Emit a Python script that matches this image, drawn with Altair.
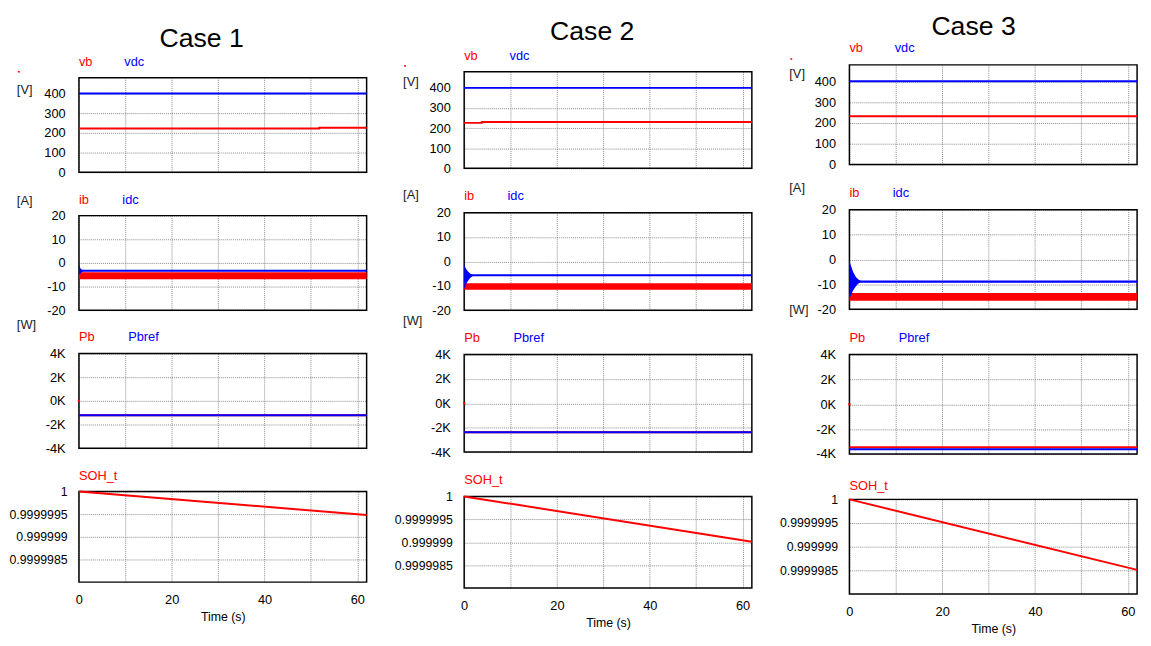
import altair as alt
import pandas as pd

FONT = "Liberation Sans"
RED = "#ff0000"
BLUE = "#0000ff"

# ---------------- shared axes ----------------
TIME = [0, 62]
X_DOMAIN = [0, 62]
X_TICKS = [0, 10, 20, 30, 40, 50, 60]
V_DOMAIN = [0, 480]
V_TICKS = [0, 100, 200, 300, 400]
A_DOMAIN = [-20, 20]
A_TICKS = [-20, -10, 0, 10, 20]
W_DOMAIN = [-4000, 4000]
W_TICKS = [-4000, -2000, 0, 2000, 4000]
S_DOMAIN = [0.999998, 1.0]
S_TICKS = [0.9999985, 0.999999, 0.9999995, 1.0]
CASES = ["Case 1", "Case 2", "Case 3"]

# ---------------- Case 1 ----------------
c1_vb_t = [0, 51.8, 51.8, 62]
c1_vb = [222, 222, 226, 226]
c1_vdc = [400, 400]
c1_ib_lo = [-6.9, -6.9]
c1_ib_hi = [-4.0, -4.0]
c1_idc = [-3.3, -3.3]
c1_tr_t = [0, 0.3, 0.6, 1.0]
c1_tr_hi = [0, -2.3, -2.9, -3.3]
c1_tr_lo = [-5.0, -4.6, -3.9, -3.3]
c1_pb = [-1225, -1225]
c1_pbref = [-1225, -1225]
c1_soh = [1.0, 0.99999948]

# ---------------- Case 2 ----------------
c2_vb_t = [0, 3.8, 3.8, 62]
c2_vb = [226, 226, 230, 230]
c2_vdc = [400, 400]
c2_ib_lo = [-11.6, -11.6]
c2_ib_hi = [-8.9, -8.9]
c2_idc = [-5.7, -5.7]
c2_tr_t = [0, 0.1, 0.6, 1.2, 1.7, 2.2]
c2_tr_hi = [0, -2.0, -3.6, -4.8, -5.4, -5.7]
c2_tr_lo = [-11.4, -11.0, -8.6, -7.0, -6.2, -5.7]
c2_pb = [-2380, -2380]
c2_pbref = [-2380, -2380]
c2_soh = [1.0, 0.99999901]

# ---------------- Case 3 ----------------
c3_vb_t = [0, 62]
c3_vb = [232, 232]
c3_vdc = [401, 401]
c3_ib_lo = [-16.6, -16.6]
c3_ib_hi = [-13.5, -13.5]
c3_idc = [-8.9, -8.9]
c3_tr_t = [0, 0.2, 0.8, 1.4, 2.0, 2.7]
c3_tr_hi = [0, -1.7, -5.0, -7.0, -8.2, -8.9]
c3_tr_lo = [-15.0, -15.0, -12.5, -10.8, -9.6, -8.9]
c3_pb = [-3460, -3460]
c3_pbref = [-3620, -3620]
c3_soh = [1.0, 0.99999851]

PB_START_T = [0]
PB_START = [0]

ONE = pd.DataFrame({"k": [0]})


def frame(t, v, v2=None):
    d = {"t": t, "v": v}
    if v2 is not None:
        d["v2"] = v2
    return pd.DataFrame(d)


def x_enc(bottom):
    ax = dict(values=X_TICKS, grid=True, ticks=False, domain=False,
              labels=bottom, labelFlush=False, labelPadding=12,
              labelExpr="datum.value % 20 == 0 ? datum.label : ''",
              title="Time (s)" if bottom else "", titlePadding=4,
              titleFontSize=12.5, titleFontWeight="normal")
    return alt.X("t:Q", scale=alt.Scale(domain=X_DOMAIN, nice=False, zero=False),
                 axis=alt.Axis(**ax))


def y_enc(domain, ticks, expr=None, fmt=None, fs=13, pad=14):
    ax = dict(values=ticks, grid=True, ticks=False, domain=False,
              labelFontSize=fs, labelPadding=pad, labelFlush=False, title="")
    if expr:
        ax["labelExpr"] = expr
    if fmt:
        ax["format"] = fmt
    return alt.Y("v:Q", scale=alt.Scale(domain=domain, nice=False, zero=False),
                 axis=alt.Axis(**ax))


def txt(text, color, dx, dy, fs=13):
    return alt.Chart(ONE).mark_text(text=text, color=color, align="left",
                                    baseline="middle", fontSize=fs, font=FONT).encode(
        x=alt.value(dx), y=alt.value(dy))


def box(w, h):
    return alt.Chart(ONE).mark_rect(filled=False, color="black", strokeWidth=1.5).encode(
        x=alt.value(0), x2=alt.value(w), y=alt.value(0), y2=alt.value(h))


def panel(w, h, X, Y, layers, labels):
    parts = [box(w, h)]
    for kind, df, color, sw in layers:
        if kind == "line":
            parts.append(alt.Chart(df).mark_line(color=color, strokeWidth=sw).encode(x=X, y=Y))
        elif kind == "area":
            parts.append(alt.Chart(df).mark_area(color=color, opacity=1).encode(
                x=X, y=Y, y2=alt.Y2("v2:Q")))
        elif kind == "dot":
            parts.append(alt.Chart(df).mark_square(color=color, size=sw, opacity=1).encode(x=X, y=Y))
    for lab in labels:
        parts.append(lab)
    return alt.layer(*parts).properties(width=w, height=h)


def column(idx, data, geo):
    (vb_t, vb, vdc, ib_lo, ib_hi, idc, tr_t, tr_hi, tr_lo, pb, pbref, soh) = data
    W = 292
    hs = geo["h"]
    ux = geo["ux"]
    udy = geo["udy"]
    sdy = geo["sdy"]

    title = alt.Chart(pd.DataFrame({"title": [CASES[idx]]})).mark_text(
        fontSize=27, font=FONT, color="black", align="center", baseline="middle").encode(
        text="title:N", x=alt.value(geo["tx"]), y=alt.value(geo["ty"])).properties(
        width=geo["tw"], height=geo["th"])

    a_expr = "(datum.value < 0 ? '-' : '') + abs(datum.value)"
    w_expr = "(datum.value < 0 ? '-' : '') + abs(datum.value) / 1000 + 'K'"

    p1 = panel(W, hs[0], x_enc(False), y_enc(V_DOMAIN, V_TICKS),
               [("line", frame(vb_t, vb), RED, 2),
                ("line", frame(TIME, vdc), BLUE, 2)],
               [txt("vb", RED, 0, sdy[0]), txt("vdc", BLUE, 46, sdy[0]),
                txt("[V]", "#222", ux, udy[0]),
                alt.Chart(ONE).mark_rule(color=RED, strokeWidth=1.5).encode(
                    x=alt.value(ux + 1), x2=alt.value(ux + 3), y=alt.value(-6))])
    p2 = panel(W, hs[1], x_enc(False), y_enc(A_DOMAIN, A_TICKS, expr=a_expr),
               [("area", frame(TIME, ib_lo, ib_hi), RED, 0),
                ("line", frame(TIME, idc), BLUE, geo["iw"]),
                ("area", frame(tr_t, tr_lo, tr_hi), BLUE, 0)],
               [txt("ib", RED, 0, sdy[1]), txt("idc", BLUE, 44, sdy[1]),
                txt("[A]", "#222", ux, udy[1])])
    p3 = panel(W, hs[2], x_enc(False), y_enc(W_DOMAIN, W_TICKS, expr=w_expr),
               [("line", frame(TIME, pb), RED, 2),
                ("line", frame(TIME, pbref), BLUE, 2),
                ("dot", frame(PB_START_T, PB_START), RED, 5)],
               [txt("Pb", RED, 0, sdy[2]), txt("Pbref", BLUE, 50, sdy[2]),
                txt("[W]", "#222", ux, udy[2])])
    p4 = panel(W, hs[3], x_enc(True), y_enc(S_DOMAIN, S_TICKS, fmt=".8~g", fs=12.5, pad=12),
               [("line", frame(TIME, soh), RED, 2)],
               [txt("SOH_t", RED, 0, sdy[3])])
    return alt.vconcat(title, p1, p2, p3, p4, spacing=geo["sp"], bounds="flush")


GEO = [
    dict(h=[96, 96, 96, 92], sp=44, tw=292, th=21, tx=124.5, ty=25.5, ux=-63, iw=2,
         udy=[13, -14.5, -29], sdy=[-15.5, -16, -16.5, -16]),
    dict(h=[98, 99, 99, 93], sp=45, tw=296, th=14, tx=130, ty=18.5, ux=-62, iw=2,
         udy=[10.5, -18, -34], sdy=[-16, -16.5, -17, -17]),
    dict(h=[101, 101, 101, 96], sp=46, tw=292, th=6, tx=126, ty=14, ux=-61, iw=2.5,
         udy=[9, -21.5, -45], sdy=[-17.5, -17, -17, -14]),
]

DATA = [
    (c1_vb_t, c1_vb, c1_vdc, c1_ib_lo, c1_ib_hi, c1_idc, c1_tr_t, c1_tr_hi, c1_tr_lo, c1_pb, c1_pbref, c1_soh),
    (c2_vb_t, c2_vb, c2_vdc, c2_ib_lo, c2_ib_hi, c2_idc, c2_tr_t, c2_tr_hi, c2_tr_lo, c2_pb, c2_pbref, c2_soh),
    (c3_vb_t, c3_vb, c3_vdc, c3_ib_lo, c3_ib_hi, c3_idc, c3_tr_t, c3_tr_hi, c3_tr_lo, c3_pb, c3_pbref, c3_soh),
]

cols = [column(i, DATA[i], GEO[i]) for i in range(3)]

chart = alt.hconcat(*cols, spacing=22).properties(
    padding={"left": 0, "top": 0, "right": 0, "bottom": 0}, background="white"
).configure_view(
    stroke="transparent"
).configure_axis(
    labelFont=FONT, labelColor="black", labelFontSize=13,
    titleFont=FONT, titleColor="black",
    gridColor="#8a8a8a", gridDash=[1, 1], gridWidth=1, gridOpacity=1
)

chart.save("out.html", embed_options={"renderer": "svg", "actions": False})
